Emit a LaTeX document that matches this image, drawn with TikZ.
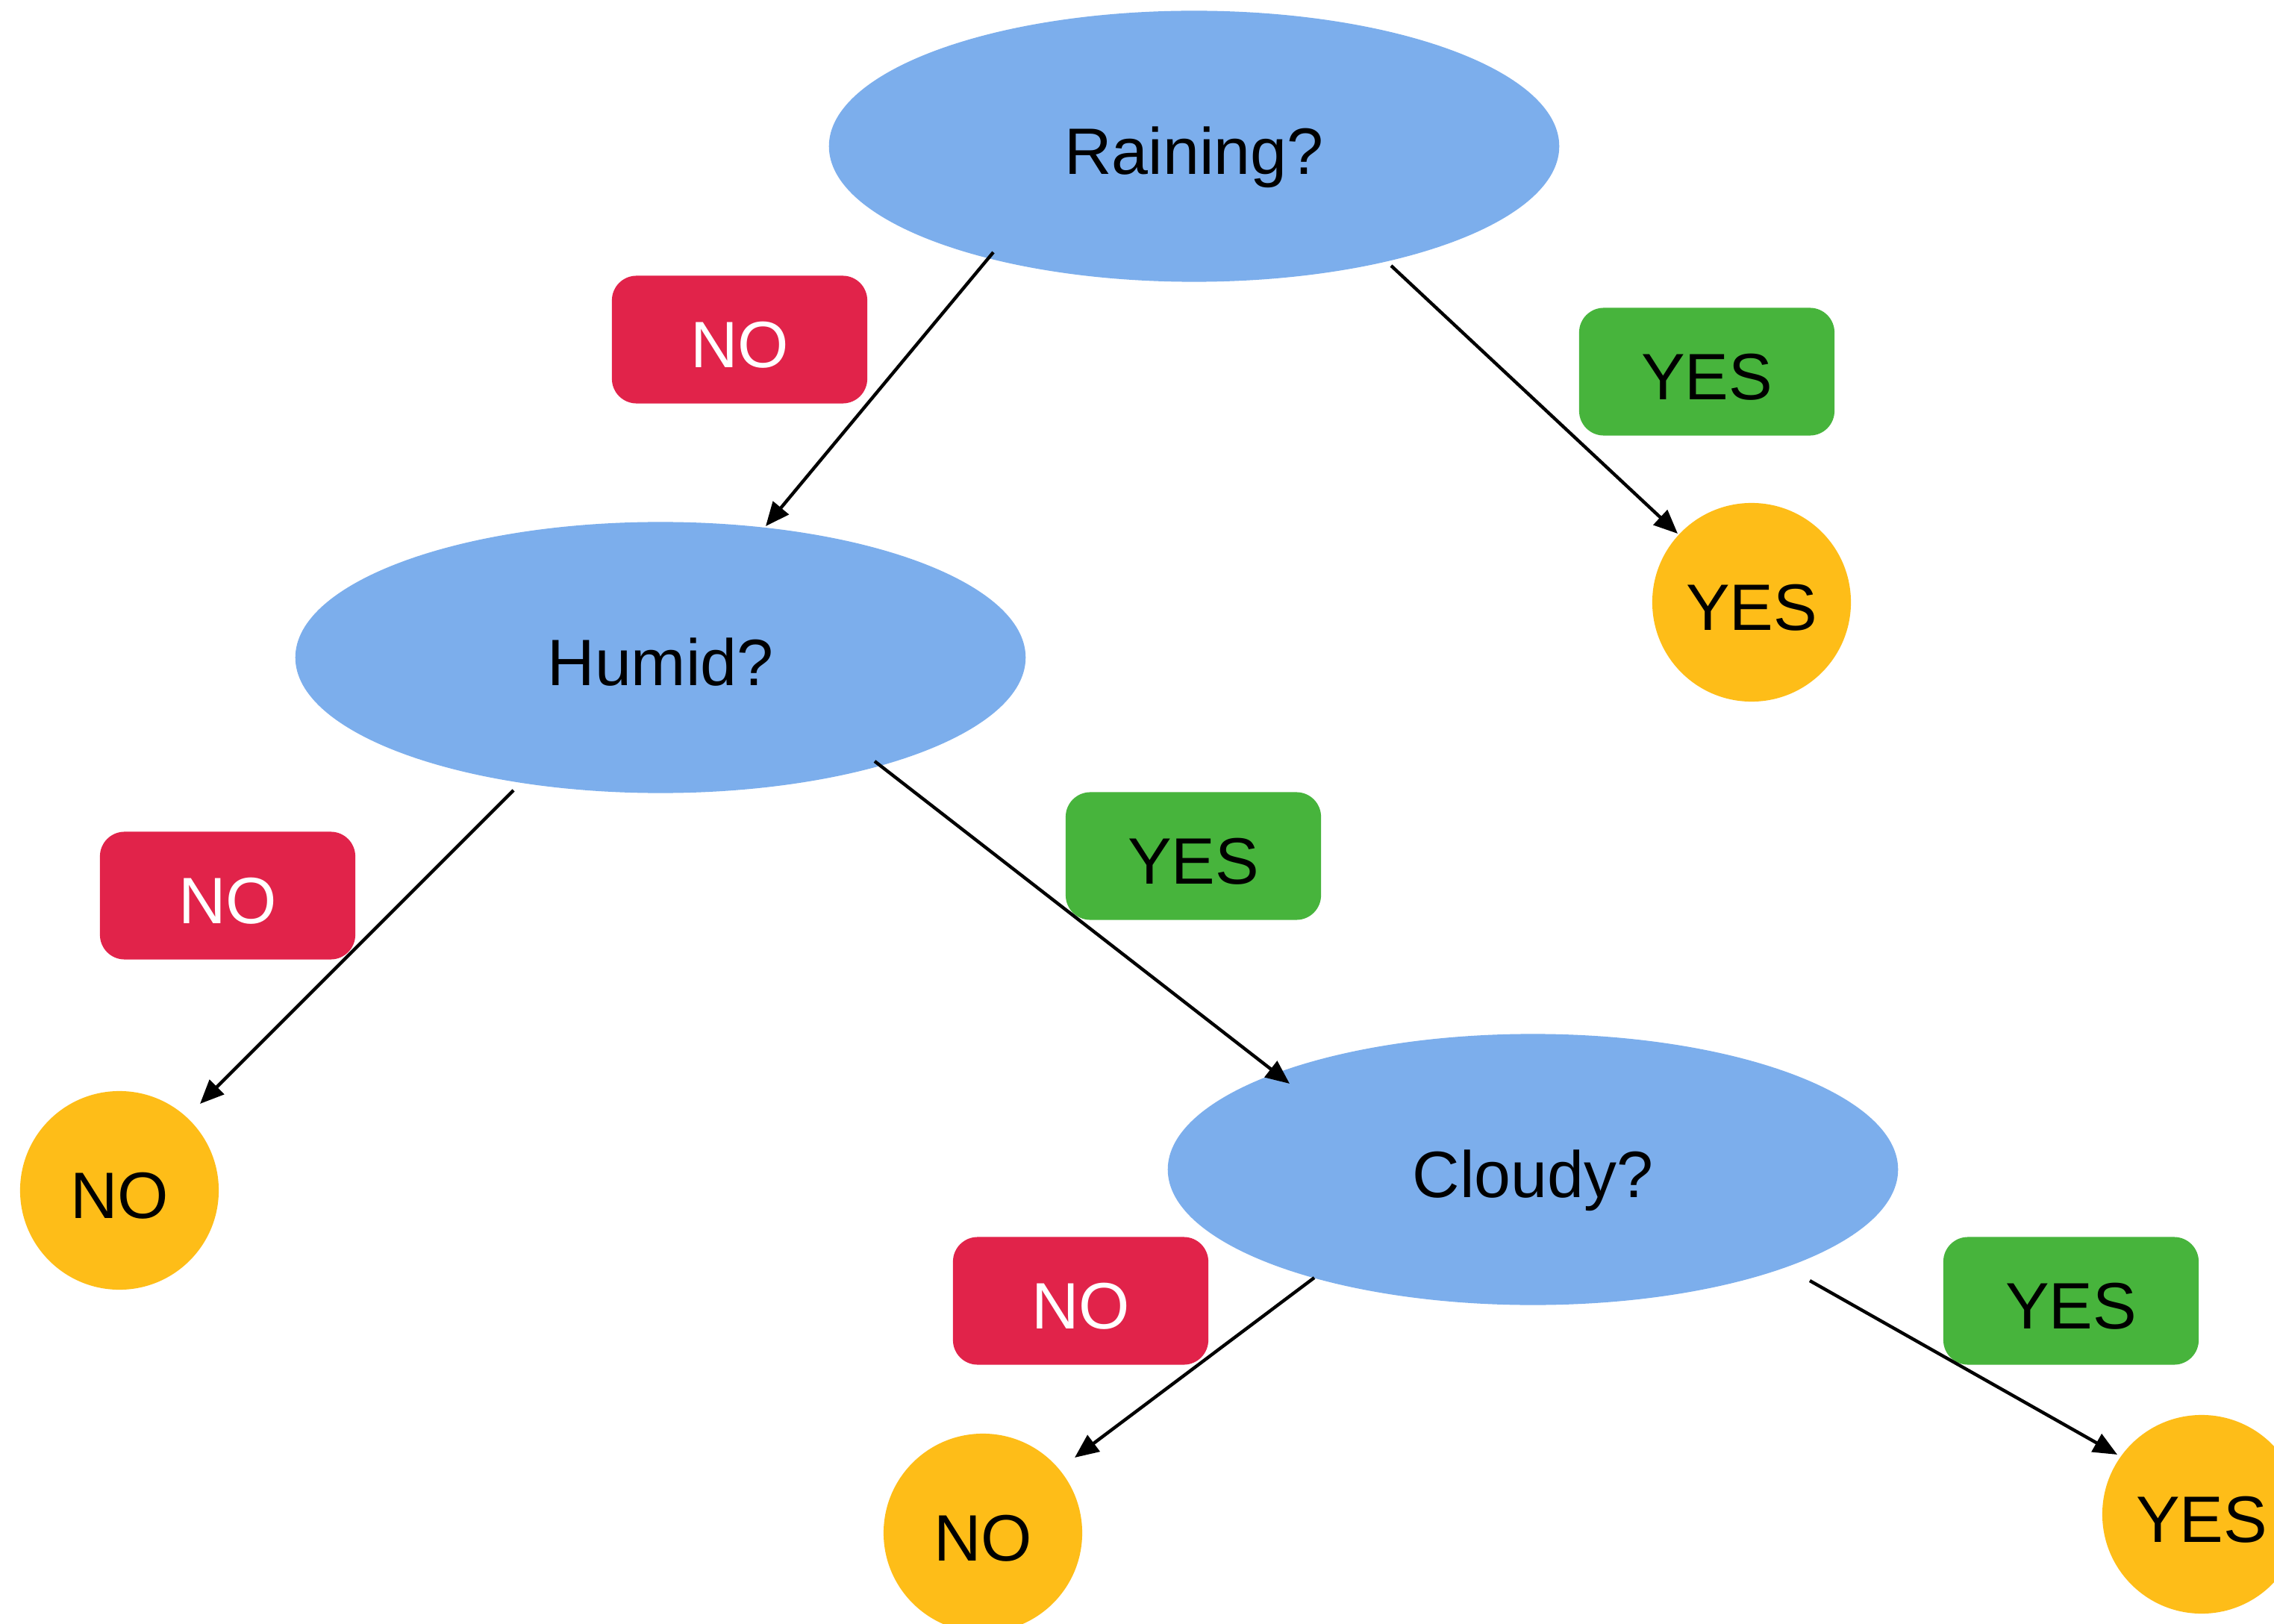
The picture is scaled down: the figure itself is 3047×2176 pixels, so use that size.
\documentclass[tikz,border=0pt]{standalone}
\usepackage{fontspec}
\setmainfont{Liberation Sans}
\usetikzlibrary{shapes.geometric,arrows.meta,calc}
\definecolor{qblue}{HTML}{7CAEEC}
\definecolor{nored}{HTML}{E1234A}
\definecolor{yesgreen}{HTML}{47B43C}
\definecolor{leafyellow}{HTML}{FEBD18}
\tikzset{
  txt/.style={font=\fontsize{25}{30}\selectfont, text height=0.74cm, text depth=0cm},
  question/.style={txt, ellipse, fill=qblue, minimum width=9.78cm, minimum height=3.63cm, inner sep=0pt},
  leaf/.style={txt, circle, fill=leafyellow, minimum size=2.66cm, inner sep=0pt},
  nolabel/.style={txt, rectangle, rounded corners=0.33cm, fill=nored, text=white, minimum width=3.42cm, minimum height=1.71cm, inner sep=0pt},
  yeslabel/.style={txt, rectangle, rounded corners=0.33cm, fill=yesgreen, text=black, minimum width=3.42cm, minimum height=1.71cm, inner sep=0pt},
  conn/.style={draw=black, line width=1.25pt, -{Triangle[length=0.32cm,width=0.27cm]}}
}
\begin{document}
\begin{tikzpicture}[x=0.01cm,y=0.01cm]
\useasboundingbox (0,0) rectangle (3047,-2176);
\fill[white] (0,0) rectangle (3047,-2176);
% question nodes
\node[question] (rain) at (1600,-196) {Raining?};
\node[question] (humid) at (885,-881) {Humid?};
\node[question] (cloudy) at (2054,-1567) {Cloudy?};
% leaves
\node[leaf] (yes1) at (2347,-807) {YES};
\node[leaf] (no1) at (160,-1595) {NO};
\node[leaf] (no2) at (1317,-2054) {NO};
\node[leaf] (yes2) at (2950,-2029) {YES};
% labels
\node[nolabel] (lno1) at (991,-455) {NO};
\node[yeslabel] (lyes1) at (2287,-498) {YES};
\node[nolabel] (lno2) at (305,-1200) {NO};
\node[yeslabel] (lyes2) at (1599,-1147) {YES};
\node[nolabel] (lno3) at (1448,-1743) {NO};
\node[yeslabel] (lyes3) at (2775,-1743) {YES};
% connectors
\draw[conn] ($(rain.center)+(-269,-142)$) -- ($(humid.center)+(141,176)$);
\draw[conn] ($(rain.center)+(264,-160)$) -- ($(yes1.center)+(-99,92)$);
\draw[conn] ($(humid.center)+(-197,-178)$) -- ($(no1.center)+(108,116)$);
\draw[conn] ($(humid.center)+(287,-139)$) -- ($(cloudy.center)+(-326,115)$);
\draw[conn] ($(cloudy.center)+(-293,-145)$) -- ($(no2.center)+(123,101)$);
\draw[conn] ($(cloudy.center)+(371,-149)$) -- ($(yes2.center)+(-113,80)$);
\end{tikzpicture}
\end{document}
